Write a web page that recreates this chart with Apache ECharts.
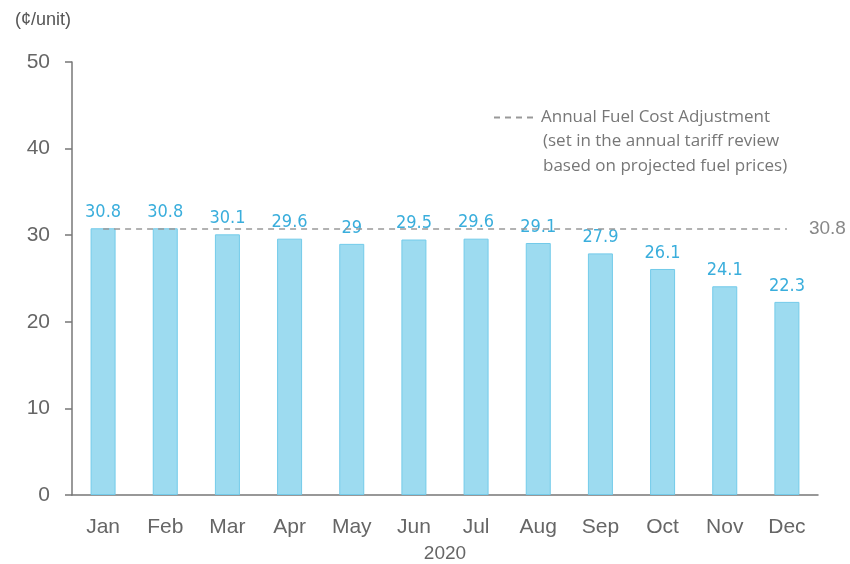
<!DOCTYPE html>
<html>
<head>
<meta charset="utf-8">
<script src="https://cdn.jsdelivr.net/npm/echarts@6/dist/echarts.min.js"></script>
<style>
  html, body { margin: 0; padding: 0; background: #fff; }
  #chart { width: 850px; height: 564px; }
</style>
</head>
<body>
<div id="chart"></div>
<script>
// 月份与燃料成本（¢/unit）
const months = ['Jan', 'Feb', 'Mar', 'Apr', 'May', 'Jun', 'Jul', 'Aug', 'Sep', 'Oct', 'Nov', 'Dec'];
const fuelCost = [30.8, 30.8, 30.1, 29.6, 29, 29.5, 29.6, 29.1, 27.9, 26.1, 24.1, 22.3];
const annualAdjustment = 30.8;
const legendLines = [
  'Annual Fuel Cost Adjustment',
  '(set in the annual tariff review',
  'based on projected fuel prices)'
];

const chart = echarts.init(document.getElementById('chart'));

const option = {
  animation: false,
  title: {
    text: '(¢/unit)',
    left: 10,
    top: 6,
    textStyle: { fontFamily: 'Liberation Sans', fontSize: 18, fontWeight: 'normal', color: '#555' }
  },
  legend: {
    data: [legendLines[0]],
    left: 488,
    top: 104,
    itemWidth: 42,
    itemGap: 10,
    textStyle: { fontFamily: 'Open Sans', fontSize: 17, color: '#777' }
  },
  graphic: [{
    type: 'text',
    left: 543,
    top: 129,
    style: {
      text: legendLines.slice(1).join('\n'),
      font: '17px "Open Sans"',
      fill: '#777',
      lineHeight: 25
    }
  }],
  grid: {
    left: 72,
    right: 32,
    top: 62,
    bottom: 69,
    outerBoundsMode: 'none'
  },
  xAxis: {
    type: 'category',
    data: months,
    name: '2020',
    nameLocation: 'middle',
    nameGap: 49,
    nameTextStyle: { fontFamily: 'Liberation Sans', fontSize: 19, color: '#666' },
    axisLine: { lineStyle: { color: '#777', width: 1.5 } },
    axisTick: { show: false },
    axisLabel: { margin: 22, fontFamily: 'Liberation Sans', fontSize: 21, color: '#666' }
  },
  yAxis: {
    type: 'value',
    min: 0,
    max: 50,
    interval: 10,
    axisLine: { show: true, lineStyle: { color: '#777', width: 1.5 } },
    axisTick: { show: true, length: 7, lineStyle: { color: '#777', width: 1.5 } },
    splitLine: { show: false },
    axisLabel: { margin: 22, fontFamily: 'Liberation Sans', fontSize: 21, color: '#666' }
  },
  series: [
    {
      type: 'bar',
      data: fuelCost,
      barWidth: 25,
      itemStyle: { color: '#9DDBF0', borderColor: '#73CBEA', borderWidth: 1 },
      label: {
        show: true,
        position: 'top',
        distance: 7,
        fontFamily: '"DejaVu Sans Condensed", Roboto, sans-serif',
        fontSize: 18,
        color: '#3AAEDC'
      },
      z: 2
    },
    {
      // 年度燃料成本调整（虚线）
      name: legendLines[0],
      type: 'line',
      data: [],
      symbol: 'none',
      lineStyle: { color: '#999', type: [6, 5], width: 1.5 },
      itemStyle: { color: 'rgba(0,0,0,0)' },
      z: 3,
      markLine: {
        silent: true,
        symbol: 'none',
        lineStyle: { color: '#999', type: [6, 5], width: 1.5 },
        label: {
          show: true,
          position: 'end',
          distance: 22,
          formatter: String(annualAdjustment),
          fontFamily: 'Liberation Sans',
          fontSize: 19,
          color: '#888'
        },
        data: [[
          { coord: [months[0], annualAdjustment] },
          { coord: [months[months.length - 1], annualAdjustment] }
        ]]
      }
    }
  ]
};

chart.setOption(option);
</script>
</body>
</html>
